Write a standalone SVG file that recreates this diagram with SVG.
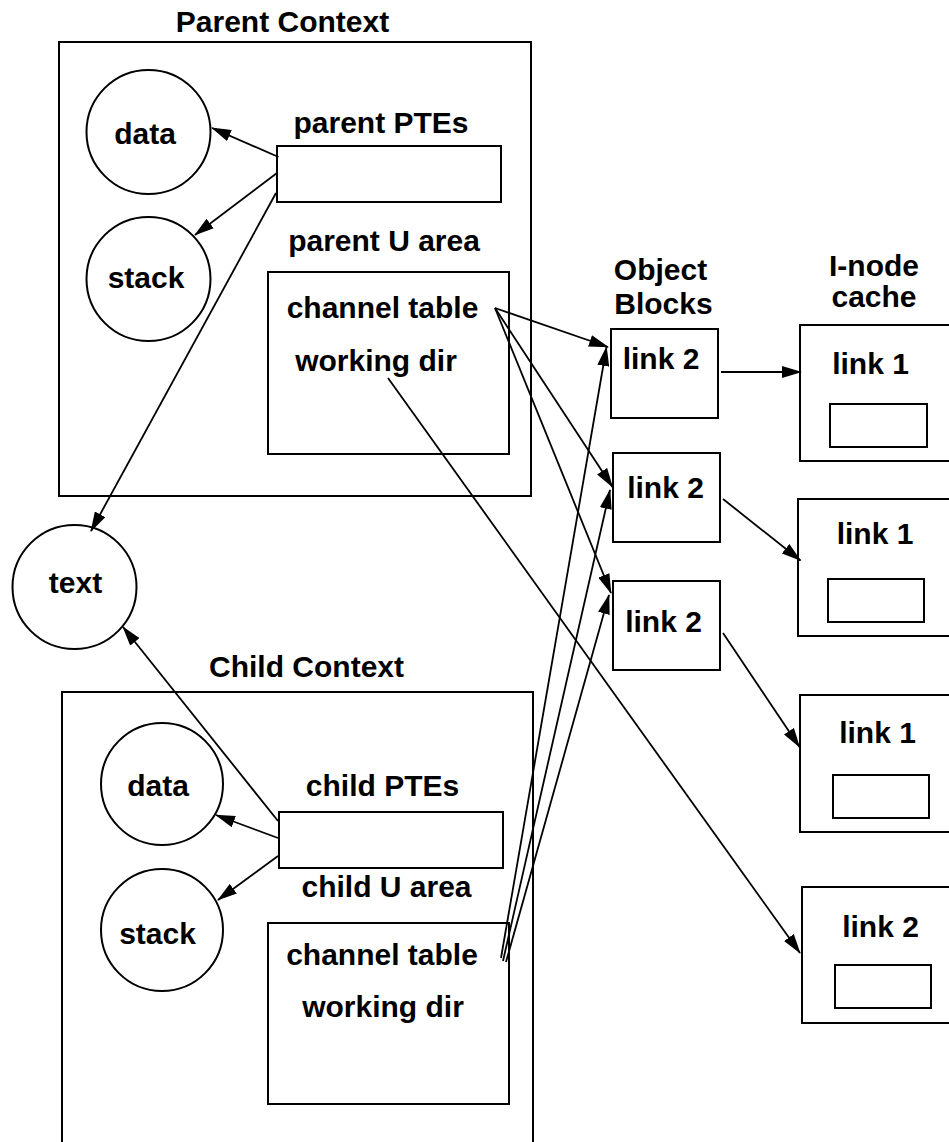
<svg xmlns="http://www.w3.org/2000/svg" width="949" height="1142" viewBox="0 0 949 1142">
<defs>
<style>
.t{font-family:"Liberation Sans",Arial,sans-serif;font-weight:bold;font-size:30px;fill:#000;text-anchor:middle}
.s{fill:#fff;stroke:#000;stroke-width:2}
.c{fill:none;stroke:#000;stroke-width:1.8}
</style>
<marker id="ah" markerUnits="userSpaceOnUse" markerWidth="20" markerHeight="12" refX="19" refY="6" orient="auto">
<path d="M0,0 L20,6 L0,12 Z" fill="#000"/>
</marker>
</defs>
<rect width="949" height="1142" fill="#fff"/>

<g id="parent-context">
<text class="t" x="282.5" y="32">Parent Context</text>
<rect class="s" x="59" y="42" width="472" height="454"/>
</g>
<g id="parent-data"><circle class="s" cx="148.5" cy="132" r="62"/><text class="t" x="145" y="144">data</text></g>
<g id="parent-stack"><circle class="s" cx="148.5" cy="279" r="62"/><text class="t" x="146" y="288">stack</text></g>
<g id="parent-ptes"><text class="t" x="381" y="133">parent PTEs</text><rect class="s" x="277" y="146" width="224" height="56"/></g>
<g id="parent-uarea"><text class="t" x="384" y="251">parent U area</text><rect class="s" x="268" y="272" width="241" height="182"/>
<text class="t" x="382.5" y="318">channel table</text><text class="t" x="376" y="371">working dir</text></g>

<g id="text-region"><circle class="s" cx="74.5" cy="587" r="62"/><text class="t" x="75.5" y="593">text</text></g>

<g id="child-context">
<text class="t" x="306.5" y="677">Child Context</text>
<rect class="s" x="62" y="692" width="471" height="470"/>
</g>
<g id="child-data"><circle class="s" cx="162" cy="784" r="61"/><text class="t" x="158" y="796">data</text></g>
<g id="child-stack"><circle class="s" cx="162" cy="930" r="61"/><text class="t" x="157.5" y="944">stack</text></g>
<g id="child-ptes"><text class="t" x="382.5" y="796">child PTEs</text><rect class="s" x="279" y="812" width="224" height="56"/></g>
<g id="child-uarea"><text class="t" x="386.5" y="897">child U area</text><rect class="s" x="268" y="923" width="241" height="181"/>
<text class="t" x="382" y="965">channel table</text><text class="t" x="383" y="1017">working dir</text></g>

<g id="object-blocks-label"><text class="t" x="660.5" y="280">Object</text><text class="t" x="663.5" y="314">Blocks</text></g>
<g id="obj1"><rect class="s" x="611" y="329" width="107" height="89"/><text class="t" x="661" y="369">link 2</text></g>
<g id="obj2"><rect class="s" x="613" y="453" width="107" height="89"/><text class="t" x="665.5" y="498">link 2</text></g>
<g id="obj3"><rect class="s" x="613" y="581" width="107" height="89"/><text class="t" x="663.5" y="632">link 2</text></g>

<g id="inode-label"><text class="t" x="874" y="275.5">I-node</text><text class="t" x="874" y="307">cache</text></g>
<g id="inode1"><rect class="s" x="800" y="325" width="170" height="136"/><rect class="s" x="830" y="404" width="97" height="43"/><text class="t" x="870.5" y="374">link 1</text></g>
<g id="inode2"><rect class="s" x="798" y="499" width="170" height="137"/><rect class="s" x="828" y="579" width="96" height="43"/><text class="t" x="875" y="544">link 1</text></g>
<g id="inode3"><rect class="s" x="800" y="695" width="170" height="137"/><rect class="s" x="833" y="775" width="96" height="43"/><text class="t" x="877.5" y="743">link 1</text></g>
<g id="inode4"><rect class="s" x="802" y="887" width="170" height="136"/><rect class="s" x="835" y="965" width="96" height="43"/><text class="t" x="880.5" y="937">link 2</text></g>

<g id="connectors" class="c" marker-end="url(#ah)">
<line x1="278.5" y1="157" x2="212" y2="128"/>
<line x1="277" y1="173" x2="195" y2="235"/>
<line x1="276" y1="193" x2="91" y2="531"/>
<line x1="278" y1="821" x2="123" y2="627"/>
<line x1="278" y1="838" x2="216" y2="815"/>
<line x1="278" y1="856" x2="218" y2="900"/>
<line x1="495" y1="308" x2="608" y2="347"/>
<line x1="495" y1="308" x2="612.5" y2="487"/>
<line x1="495" y1="308" x2="611" y2="593"/>
<line x1="388" y1="378" x2="800" y2="953"/>
<line x1="501" y1="958" x2="606.5" y2="347"/>
<line x1="503" y1="961" x2="610" y2="490"/>
<line x1="506" y1="962" x2="609" y2="595"/>
<line x1="721" y1="372" x2="801" y2="372"/>
<line x1="723" y1="499" x2="800.5" y2="560.5"/>
<line x1="723" y1="633" x2="799.5" y2="747"/>
</g>
</svg>
